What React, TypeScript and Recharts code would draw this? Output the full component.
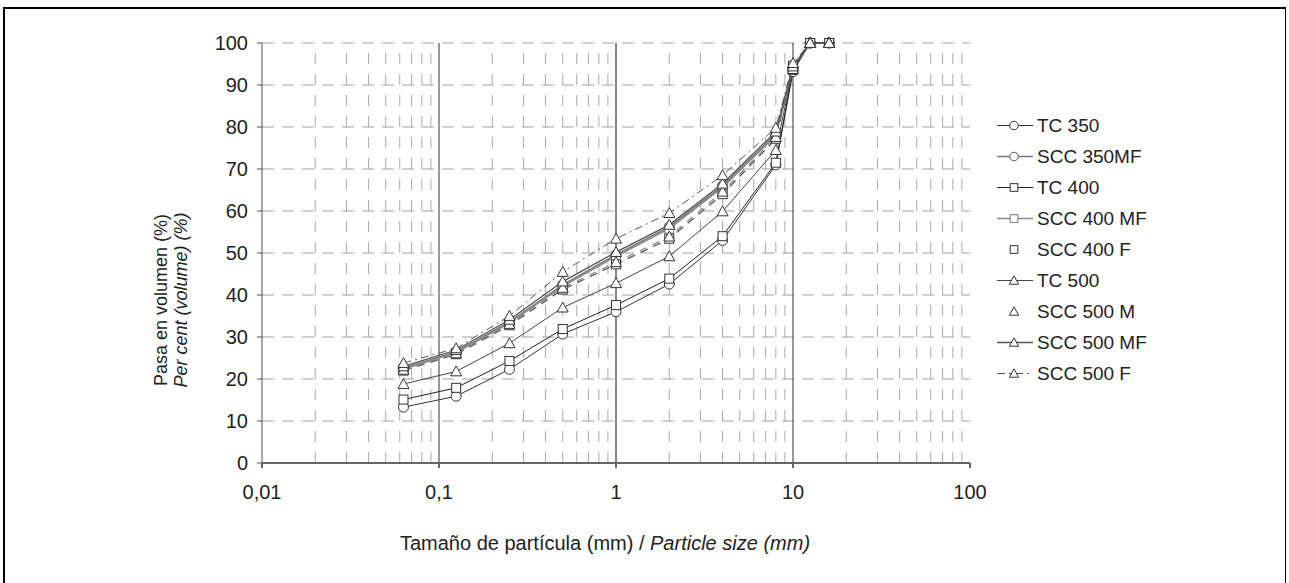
import { LineChart, Line, XAxis, YAxis, ReferenceLine } from 'recharts';

// particle sizes (mm) of the sieves
const sizes = [0.063, 0.125, 0.25, 0.5, 1, 2, 4, 8, 10, 12.5, 16];

// per cent passing
const tc350 = [13.3, 15.9, 22.3, 30.7, 36.0, 42.6, 53.0, 71.0, 93.2, 100, 100];
const scc350mf = [22.6, 26.5, 33.6, 42.4, 49.6, 56.2, 66.0, 78.4, 94.2, 100, 100];
const tc400 = [15.1, 17.9, 24.3, 31.9, 37.6, 43.9, 54.0, 71.5, 93.6, 100, 100];
const scc400mf = [22.3, 26.3, 33.3, 42.1, 49.2, 55.8, 65.6, 78.0, 94.0, 100, 100];
const scc400f = [22.0, 25.9, 32.8, 41.3, 47.3, 53.4, 64.0, 77.2, 94.6, 100, 100];
const tc500 = [18.8, 21.8, 28.5, 37.0, 42.8, 49.2, 59.9, 74.5, 93.8, 100, 100];
const scc500m = [22.2, 26.1, 33.1, 41.7, 47.8, 53.9, 64.6, 77.6, 94.8, 100, 100];
const scc500mf = [23.0, 26.9, 34.1, 43.2, 50.2, 56.7, 66.5, 78.9, 94.4, 100, 100];
const scc500f = [23.8, 27.3, 35.0, 45.5, 53.4, 59.5, 68.5, 79.8, 95.2, 100, 100];

const xTicks = [0.01, 0.1, 1, 10, 100];
const yTicks = [0, 10, 20, 30, 40, 50, 60, 70, 80, 90, 100];
const yGrid = [10, 20, 30, 40, 50, 60, 70, 80, 90, 100];
const decades = [0.01, 0.1, 1, 10];
const minorSteps = [2, 3, 4, 5, 6, 7, 8, 9];
const majorLines = [0.1, 1, 10];

const FONT = '"Liberation Sans", Arial, Helvetica, sans-serif';

type Shape = 'circle' | 'square' | 'triangle';

const series = [
  { key: 'tc350', name: 'TC 350', values: tc350, shape: 'circle' as Shape, stroke: '#333', mark: '#333', width: 1, dash: undefined as string | undefined, legendLine: true },
  { key: 'scc350mf', name: 'SCC 350MF', values: scc350mf, shape: 'circle' as Shape, stroke: '#7a7a7a', mark: '#555', width: 1.6, dash: undefined, legendLine: true },
  { key: 'tc400', name: 'TC 400', values: tc400, shape: 'square' as Shape, stroke: '#222', mark: '#333', width: 1, dash: undefined, legendLine: true },
  { key: 'scc400mf', name: 'SCC 400 MF', values: scc400mf, shape: 'square' as Shape, stroke: '#8c8c8c', mark: '#777', width: 1.6, dash: undefined, legendLine: true },
  { key: 'scc400f', name: 'SCC 400 F', values: scc400f, shape: 'square' as Shape, stroke: '#555', mark: '#333', width: 1.3, dash: '8 6', legendLine: false },
  { key: 'tc500', name: 'TC 500', values: tc500, shape: 'triangle' as Shape, stroke: '#444', mark: '#333', width: 1, dash: undefined, legendLine: true },
  { key: 'scc500m', name: 'SCC 500 M', values: scc500m, shape: 'triangle' as Shape, stroke: '#888', mark: '#333', width: 1.2, dash: '7 7', legendLine: false },
  { key: 'scc500mf', name: 'SCC 500 MF', values: scc500mf, shape: 'triangle' as Shape, stroke: '#555', mark: '#333', width: 1.3, dash: undefined, legendLine: true },
  { key: 'scc500f', name: 'SCC 500 F', values: scc500f, shape: 'triangle' as Shape, stroke: '#555', mark: '#333', width: 1, dash: '8 4 2 4', legendLine: true },
];

const data = sizes.map((s, i) => {
  const row: Record<string, number> = { size: s };
  series.forEach((se) => {
    row[se.key] = se.values[i];
  });
  return row;
});

const minorLines: number[] = [];
decades.forEach((d) => minorSteps.forEach((m) => minorLines.push(+(d * m).toPrecision(3))));

const Marker = ({ shape, cx, cy, stroke, s = 1 }: { shape: Shape; cx: number; cy: number; stroke: string; s?: number }) => {
  if (shape === 'circle') return <circle cx={cx} cy={cy} r={5 * s} fill="#fff" stroke={stroke} strokeWidth={1} />;
  if (shape === 'square')
    return <rect x={cx - 4.5 * s} y={cy - 4.5 * s} width={9 * s} height={9 * s} fill="#fff" stroke={stroke} strokeWidth={1} />;
  const h = 5.5 * s;
  return (
    <polygon
      points={`${cx},${cy - h} ${cx - h},${cy + h * 0.8} ${cx + h},${cy + h * 0.8}`}
      fill="#fff"
      stroke={stroke}
      strokeWidth={1}
    />
  );
};

const makeDot = (key: string, shape: Shape, stroke: string) => (props: any) => {
  const { cx, cy, index } = props;
  if (cx == null || cy == null) return <g key={`${key}-${index}`} />;
  return (
    <g key={`${key}-${index}`}>
      <Marker shape={shape} cx={cx} cy={cy} stroke={stroke} />
    </g>
  );
};

const YTitle = (props: any) => {
  const vb = props.viewBox || {};
  const x = (vb.x ?? 202) - 35;
  const y = 300;
  return (
    <text transform={`translate(${x}, ${y}) rotate(-90)`} textAnchor="middle" fontSize={18} fill="#222" fontFamily={FONT}>
      <tspan x={0} dy={0}>Pasa en volumen (%)</tspan>
      <tspan x={0} dy={20} fontStyle="italic">Per cent (volume) (%)</tspan>
    </text>
  );
};

const XTitle = () => (
  <text x={605} y={550} textAnchor="middle" fontSize={20} fill="#222" fontFamily={FONT}>
    Tamaño de partícula (mm) / <tspan fontStyle="italic">Particle size (mm)</tspan>
  </text>
);

const LegendBox = () => (
  <div style={{ position: 'absolute', left: 995, top: 110, fontFamily: FONT, fontSize: 19, color: '#222' }}>
    {series.map((se) => (
      <div key={se.key} style={{ display: 'flex', alignItems: 'center', height: 31 }}>
        <svg width={40} height={31}>
          {se.legendLine && (
            <line x1={2} y1={15.5} x2={38} y2={15.5} stroke={se.stroke} strokeWidth={se.width} strokeDasharray={se.dash} />
          )}
          <Marker shape={se.shape} cx={19} cy={15.5} stroke={se.mark} s={0.85} />
        </svg>
        <span style={{ marginLeft: 2, whiteSpace: 'nowrap' }}>{se.name}</span>
      </div>
    ))}
  </div>
);

const App = () => {
  return (
    <div style={{ position: 'absolute', left: 0, top: 0, width: 1289, height: 583, background: '#fff', overflow: 'hidden' }}>
      <div
        style={{
          position: 'absolute',
          left: 3,
          top: 7,
          width: 1280,
          height: 600,
          borderTop: '2px solid #000',
          borderLeft: '2px solid #000',
          borderRight: '1px solid #000',
        }}
      />
      <LineChart width={1289} height={583} data={data} margin={{ top: 43, right: 319, bottom: 70, left: 202 }}>
        {minorLines.map((v) => (
          <ReferenceLine key={`mx-${v}`} x={v} stroke="#aaa" strokeDasharray="11 10" />
        ))}
        {yGrid.map((v) => (
          <ReferenceLine key={`gy-${v}`} y={v} stroke="#a0a0a0" strokeDasharray="12 8" />
        ))}
        {majorLines.map((v) => (
          <ReferenceLine key={`mj-${v}`} x={v} stroke={v === 1 ? '#888' : '#333'} strokeWidth={v === 1 ? 2 : 1} />
        ))}
        <XAxis
          dataKey="size"
          type="number"
          scale="log"
          domain={[0.01, 100]}
          ticks={xTicks}
          allowDataOverflow
          height={50}
          stroke="#666"
          strokeWidth={2}
          tickSize={5}
          tickMargin={17}
          tick={{ fill: '#222', fontSize: 20, fontFamily: FONT }}
          tickFormatter={(v: number) => String(v).replace('.', ',')}
          label={{ content: XTitle }}
        />
        <YAxis
          type="number"
          domain={[0, 100]}
          ticks={yTicks}
          width={60}
          stroke="#555"
          tickSize={5}
          tickMargin={9}
          tick={{ fill: '#222', fontSize: 20, fontFamily: FONT }}
          label={{ content: YTitle }}
        />
        {series.map((se) => (
          <Line
            key={se.key}
            dataKey={se.key}
            name={se.name}
            type="linear"
            stroke={se.stroke}
            strokeWidth={se.width}
            strokeDasharray={se.dash}
            dot={makeDot(se.key, se.shape, se.mark)}
            activeDot={false}
            isAnimationActive={false}
          />
        ))}
      </LineChart>
      <LegendBox />
    </div>
  );
};

export default App;
